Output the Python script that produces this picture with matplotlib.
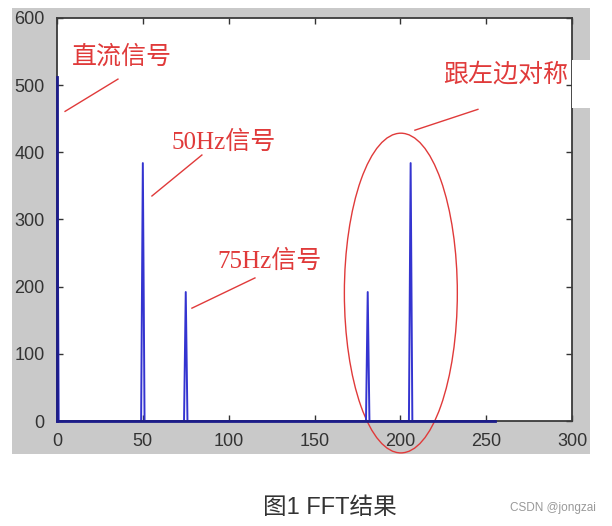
import numpy as np
import matplotlib
matplotlib.use('Agg')
import matplotlib.pyplot as plt
from matplotlib.patches import Ellipse, Rectangle

plt.rcParams['font.family'] = ['Noto Sans CJK SC', 'DejaVu Sans']

# FFT of a 256-point signal (Fs = 256): DC + 50 Hz + 75 Hz, mirrored
n_points = 256
peak_bins = [0, 50, 75, 181, 206]
peak_amps = [512, 384, 192, 192, 384]

freq = np.arange(n_points)
spectrum = np.zeros(n_points)
spectrum[peak_bins] = peak_amps

x_ticks = [0, 50, 100, 150, 200, 250, 300]
y_ticks = [0, 100, 200, 300, 400, 500, 600]

red = '#e03a3a'
W, H = 612, 526

fig = plt.figure(figsize=(W / 100, H / 100), dpi=100)

# grey screenshot background around the plot
fig.patches.append(Rectangle((12 / W, 1 - 454 / H), 578 / W, 446 / H,
                             transform=fig.transFigure, facecolor='#c9c9c9',
                             edgecolor='none', zorder=0))

ax = fig.add_axes([57 / W, 1 - 421 / H, 515 / W, 403 / H])
ax.set_zorder(1)
ax.plot(freq, spectrum, color='#3434d0', lw=1.4)
ax.plot(freq, spectrum * 0, color='#1c1c8a', lw=2, zorder=3, clip_on=False)
ax.plot([0, 0], [0, peak_amps[0]], color='#1c1c8a', lw=2, zorder=3, clip_on=False)

ax.set_xlim(0, 300)
ax.set_ylim(0, 600)
ax.set_xticks(x_ticks)
ax.set_yticks(y_ticks)
ax.tick_params(direction='in', length=4, width=1, colors='#333333',
               top=True, right=True, labelsize=13, pad=9)
for lab in ax.get_xticklabels() + ax.get_yticklabels():
    lab.set_family('Liberation Sans')
for s in ax.spines.values():
    s.set_color('#3a3a3a')
    s.set_linewidth(1.3)

# annotations
ax.plot([4.7, 35.5], [461, 509], color=red, lw=1, clip_on=False)
ax.plot([55.3, 84.4], [335, 396], color=red, lw=1, clip_on=False)
ax.plot([78.6, 115.3], [168, 213], color=red, lw=1, clip_on=False)
ax.plot([208.5, 245.2], [433, 464], color=red, lw=1, clip_on=False)

ax.text(37.9, 542, '直流信号', color=red, fontsize=18, ha='center', va='center')
ax.text(97.3, 415, '50Hz信号', color=red, fontsize=18, ha='center', va='center',
        family=['Liberation Serif', 'Noto Sans CJK SC'])
ax.text(124, 238, '75Hz信号', color=red, fontsize=18, ha='center', va='center',
        family=['Liberation Serif', 'Noto Sans CJK SC'])

# white patch behind the right-hand label, as in the screenshot
fig.patches.append(Rectangle((572 / W, 1 - 108 / H), 22 / W, 48 / H,
                             transform=fig.transFigure, facecolor='white',
                             edgecolor='none', zorder=2))
ax.text(261.5, 516, '跟左边对称', color=red, fontsize=18, ha='center',
        va='center', zorder=5, clip_on=False)

ax.add_patch(Ellipse((200.3, 190.5), 65.8, 476, fill=False, edgecolor=red,
                     lw=1, clip_on=False))

fig.text(330 / W, 1 - 508 / H, '图1 FFT结果', fontsize=17, color='#333333',
         ha='center', va='center', family=['Liberation Sans', 'Noto Sans CJK SC'])
fig.text(596 / W, 1 - 508 / H, 'CSDN @jongzai', fontsize=8.5, color='#999999',
         ha='right', va='center', family='Liberation Sans')

fig.savefig('out.png', dpi=100)
